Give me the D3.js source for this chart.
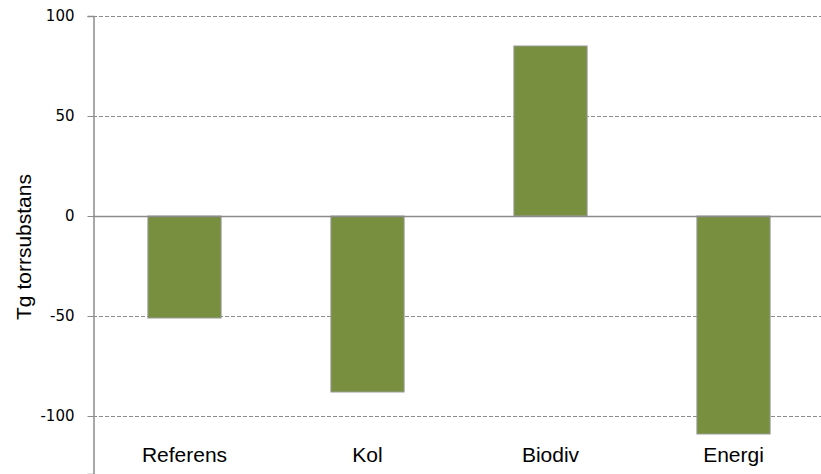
<!DOCTYPE html>
<html>
<head>
<meta charset="utf-8">
<script src="https://cdn.jsdelivr.net/npm/d3@7"></script>
<style>
  body { margin: 0; background: #fff; }
  svg { display: block; }
</style>
</head>
<body>
<div id="chart"></div>
<script>
const categories = ["Referens", "Kol", "Biodiv", "Energi"];
const values = [-51, -88, 85, -109];
const yTicks = [100, 50, 0, -50, -100];
const yLabel = "Tg torrsubstans";

const width = 821;
const height = 474;
const margin = { left: 93 };

const svg = d3.select("#chart")
  .append("svg")
  .attr("width", width)
  .attr("height", height);

const x = d3.scaleBand()
  .domain(categories)
  .range([margin.left, margin.left + 183 * categories.length])
  .paddingInner(0.6)
  .paddingOuter(0.3);

// 2 px per unit, 100 at y=16
const y = d3.scaleLinear()
  .domain([-129, 100])
  .range([474, 16]);

// gridlines
svg.append("g")
  .selectAll("line")
  .data(yTicks.filter(d => d !== 0))
  .join("line")
  .attr("x1", margin.left)
  .attr("x2", width)
  .attr("y1", d => y(d) + 0.5)
  .attr("y2", d => y(d) + 0.5)
  .attr("stroke", "#8c8c8c")
  .attr("stroke-width", 1)
  .attr("stroke-dasharray", "4,2");

// bars
svg.append("g")
  .selectAll("rect")
  .data(values)
  .join("rect")
  .attr("x", (d, i) => x(categories[i]))
  .attr("width", x.bandwidth())
  .attr("y", d => y(Math.max(0, d)))
  .attr("height", d => Math.abs(y(d) - y(0)))
  .attr("fill", "#778f3f")
  .attr("stroke", "#9a9a9a")
  .attr("stroke-width", 1);

// zero line
svg.append("line")
  .attr("x1", margin.left)
  .attr("x2", width)
  .attr("y1", y(0) + 0.5)
  .attr("y2", y(0) + 0.5)
  .attr("stroke", "#8c8c8c")
  .attr("stroke-width", 1.5);

// y axis
const yAxis = svg.append("g")
  .attr("transform", `translate(${margin.left + 0.5},0)`)
  .call(d3.axisLeft(y)
    .tickValues(yTicks)
    .tickFormat(d => String(d))
    .tickSize(6)
    .tickPadding(13));
yAxis.select(".domain").attr("stroke", "#8c8c8c").attr("stroke-width", 1.5);
yAxis.selectAll(".tick line").attr("stroke", "#8c8c8c");
yAxis.selectAll(".tick text")
  .attr("font-family", "DejaVu Sans, Verdana, sans-serif")
  .attr("font-size", 15)
  .attr("fill", "#000");

// category labels
svg.append("g")
  .selectAll("text")
  .data(categories)
  .join("text")
  .attr("x", d => x(d) + x.bandwidth() / 2)
  .attr("y", 462)
  .attr("text-anchor", "middle")
  .attr("font-family", "Liberation Sans, Arial, sans-serif")
  .attr("font-size", 21)
  .attr("fill", "#000")
  .text(d => d);

// y label
svg.append("text")
  .attr("transform", "translate(31,247) rotate(-90)")
  .attr("text-anchor", "middle")
  .attr("font-family", "Liberation Sans, Arial, sans-serif")
  .attr("font-size", 21)
  .attr("fill", "#000")
  .text(yLabel);
</script>
</body>
</html>
